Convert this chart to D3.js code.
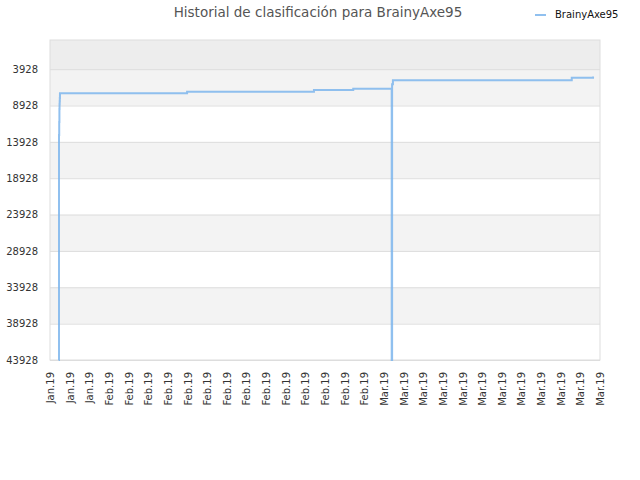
<!DOCTYPE html>
<html>
<head>
<meta charset="utf-8">
<script src="https://cdn.jsdelivr.net/npm/d3@7"></script>
<style>
  body { margin: 0; background: #fff; }
  text { font-family: "DejaVu Sans", sans-serif; }
</style>
</head>
<body>
<div id="chart"></div>
<script>
// rank history (lower is better)
var dates = [
  "2019-01-26 21:00", "2019-01-26 22:00", "2019-01-26 22:30", "2019-01-26 23:00",
  "2019-01-26 23:20", "2019-01-26 23:40", "2019-01-27 00:00", "2019-01-27 00:20",
  "2019-02-08 23:00", "2019-02-21 21:00", "2019-02-25 21:00",
  "2019-03-01 19:00", "2019-03-01 20:00", "2019-03-01 22:00",
  "2019-03-20 03:00", "2019-03-22 07:00"
];
var ranks = [
  43928, 13000, 11200, 9400,
  8740, 8330, 7900, 7227,
  7048, 6787, 6636,
  43928, 5990, 5440,
  5124, 4931
];
var yTicks = [3928, 8928, 13928, 18928, 23928, 28928, 33928, 38928, 43928];
var xStart = "2019-01-26", xEnd = "2019-03-23";
var playerName = "BrainyAxe95";
var titleText = "Historial de clasificación para " + playerName;
var monthNames = ["Jan", "Feb", "Mar", "Apr", "May", "Jun", "Jul", "Aug", "Sep", "Oct", "Nov", "Dec"];

var width = 640, height = 480;
var margin = {top: 40, right: 40, bottom: 120, left: 50};
var plotW = width - margin.left - margin.right;
var plotH = height - margin.top - margin.bottom;

var parseT = d3.timeParse("%Y-%m-%d %H:%M");
var parseD = d3.timeParse("%Y-%m-%d");

var data = dates.map(function(d, i) { return {t: parseT(d), v: ranks[i]}; });

var svg = d3.select("#chart").append("svg")
  .attr("width", width)
  .attr("height", height);

var x = d3.scaleTime()
  .domain([parseD(xStart), parseD(xEnd)])
  .range([0, plotW]);

var y = d3.scaleLinear()
  .domain([-80, 43928])
  .range([0, plotH]);

var g = svg.append("g")
  .attr("transform", "translate(" + margin.left + "," + margin.top + ")");

// background bands
g.append("rect")
  .attr("width", plotW)
  .attr("height", y(yTicks[0]))
  .attr("fill", "#ededed");

for (var i = 0; i < yTicks.length - 1; i++) {
  if (i % 2 == 0) {
    g.append("rect")
      .attr("y", y(yTicks[i]))
      .attr("width", plotW)
      .attr("height", y(yTicks[i + 1]) - y(yTicks[i]))
      .attr("fill", "#f3f3f3");
  }
}

// grid + y labels
var yAxis = d3.axisLeft(y)
  .tickValues(yTicks)
  .tickSize(-plotW)
  .tickPadding(12)
  .tickFormat(function(d) { return d; });

var yg = g.append("g").call(yAxis);
yg.select(".domain").remove();
yg.selectAll(".tick line").attr("stroke", "#dddddd");
yg.selectAll(".tick text")
  .attr("fill", "#333")
  .style("font-size", "10px");

// x labels, every 2 days from the start
var xTicks = d3.timeDay.range(parseD(xStart), d3.timeDay.offset(parseD(xEnd), 1), 2);
var xAxis = d3.axisBottom(x)
  .tickValues(xTicks)
  .tickSize(0)
  .tickFormat(function(d) { return monthNames[d.getMonth()] + "." + d3.timeFormat("%y")(d); });

var xg = g.append("g")
  .attr("transform", "translate(0," + plotH + ")")
  .call(xAxis);
xg.select(".domain").remove();
xg.selectAll(".tick text")
  .attr("fill", "#333")
  .style("font-size", "10px")
  .attr("text-anchor", "end")
  .attr("transform", "rotate(-90)")
  .attr("x", -12)
  .attr("y", 0)
  .attr("dy", "0.35em");

// plot border
g.append("rect")
  .attr("width", plotW)
  .attr("height", plotH)
  .attr("fill", "none")
  .attr("stroke", "#dddddd");

// the line
var line = d3.line()
  .curve(d3.curveStepAfter)
  .x(function(d) { return x(d.t); })
  .y(function(d) { return y(d.v); });

g.append("path")
  .datum(data)
  .attr("d", line)
  .attr("fill", "none")
  .attr("stroke", "#7cb5ec")
  .attr("stroke-opacity", 0.85)
  .attr("stroke-width", 2);

// title
svg.append("text")
  .attr("x", 318)
  .attr("y", 17)
  .attr("text-anchor", "middle")
  .attr("fill", "#555")
  .style("font-size", "13.5px")
  .text(titleText);

// legend
svg.append("line")
  .attr("x1", 535).attr("x2", 546)
  .attr("y1", 15).attr("y2", 15)
  .attr("stroke", "#7cb5ec")
  .attr("stroke-opacity", 0.85)
  .attr("stroke-width", 2);

svg.append("text")
  .attr("x", 555)
  .attr("y", 18)
  .attr("fill", "#111")
  .style("font-size", "10px")
  .text(playerName);
</script>
</body>
</html>
